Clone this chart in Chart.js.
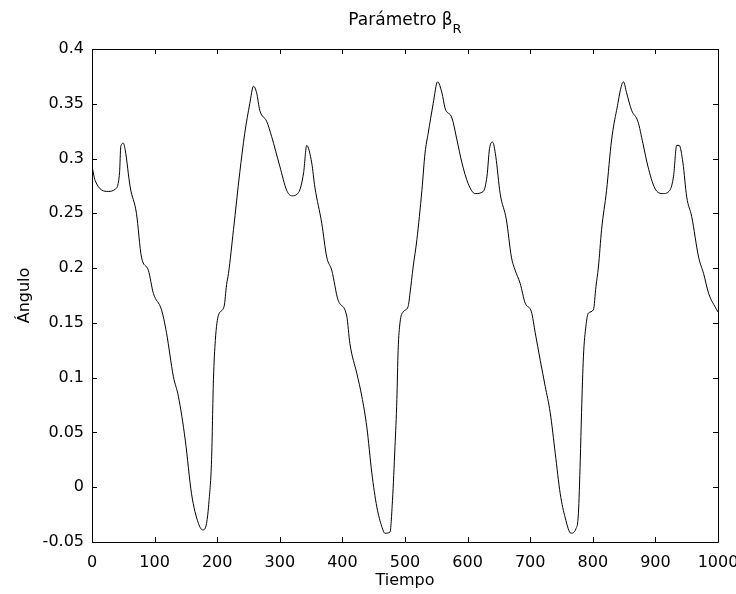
<!DOCTYPE html>
<html>
<head>
<meta charset="utf-8">
<script src="https://cdn.jsdelivr.net/npm/chart.js@4"></script>
<style>
  body { margin: 0; background: #fff; }
  canvas { display: block; }
</style>
</head>
<body>
<canvas id="beta_r" width="736" height="594"></canvas>
<script>
// valores
const tiempo = [
    0, 5, 26, 37, 44, 46, 50, 53, 61, 71, 79, 90, 98, 111, 119, 130, 138, 149, 159, 170,
    177, 183, 187, 191, 194, 197, 202, 211, 215, 218, 226, 236, 244, 252, 258, 263, 268, 279, 287, 300,
    311, 319, 330, 338, 343, 351, 356, 367, 375, 383, 393, 407, 412, 423, 431, 439, 447, 455, 463, 468,
    476, 480, 484, 487, 489, 492, 497, 505, 508, 513, 519, 527, 532, 537, 545, 552, 559, 564, 575, 583,
    591, 601, 612, 625, 631, 635, 640, 645, 652, 662, 670, 676, 684, 692, 702, 708, 716, 724, 732, 740,
    748, 756, 765, 773, 777, 780, 782, 785, 789, 793, 801, 805, 809, 814, 822, 830, 838, 849, 854, 862,
    872, 880, 888, 899, 912, 923, 929, 934, 938, 944, 950, 958, 969, 977, 985, 998, 1000
];
const angulo = [
    0.293, 0.280, 0.270, 0.272, 0.287, 0.311, 0.314, 0.308, 0.274, 0.250, 0.210, 0.198, 0.177, 0.162, 0.141, 0.101, 0.083, 0.043, -0.006, -0.033,
    -0.039, -0.033, -0.012, 0.025, 0.098, 0.134, 0.157, 0.165, 0.185, 0.195, 0.235, 0.287, 0.323, 0.350, 0.366, 0.360, 0.344, 0.334, 0.320, 0.293,
    0.271, 0.266, 0.269, 0.287, 0.312, 0.296, 0.274, 0.241, 0.210, 0.198, 0.171, 0.156, 0.131, 0.104, 0.083, 0.055, 0.013, -0.018, -0.036, -0.042,
    -0.041, -0.012, 0.037, 0.080, 0.125, 0.150, 0.160, 0.165, 0.177, 0.201, 0.226, 0.271, 0.305, 0.323, 0.350, 0.370, 0.360, 0.346, 0.337, 0.317,
    0.296, 0.277, 0.268, 0.270, 0.284, 0.309, 0.315, 0.302, 0.268, 0.244, 0.210, 0.198, 0.186, 0.168, 0.160, 0.141, 0.116, 0.092, 0.068, 0.031,
    -0.006, -0.028, -0.042, -0.038, -0.024, 0.025, 0.068, 0.119, 0.147, 0.159, 0.162, 0.183, 0.201, 0.235, 0.271, 0.317, 0.344, 0.370, 0.360, 0.344,
    0.334, 0.314, 0.293, 0.273, 0.268, 0.271, 0.284, 0.312, 0.312, 0.296, 0.265, 0.247, 0.210, 0.195, 0.177, 0.162, 0.160
];
const xTicks = [0, 100, 200, 300, 400, 500, 600, 700, 800, 900, 1000];
const yTicks = [-0.05, 0, 0.05, 0.1, 0.15, 0.2, 0.25, 0.3, 0.35, 0.4];

const fuente = "'DejaVu Sans', sans-serif";

// caja con marcas hacia dentro (estilo matlab)
const cajaPlugin = {
    id: 'caja',
    afterDraw(chart) {
        const {ctx, chartArea: a, scales} = chart;
        ctx.save();
        ctx.strokeStyle = '#000';
        ctx.lineWidth = 1;
        ctx.beginPath();
        ctx.rect(Math.round(a.left) + 0.5, Math.round(a.top) + 0.5, Math.round(a.right - a.left), Math.round(a.bottom - a.top));
        const L = 5;
        xTicks.forEach(v => {
            const x = Math.round(scales.x.getPixelForValue(v)) + 0.5;
            ctx.moveTo(x, a.bottom); ctx.lineTo(x, a.bottom - L);
            ctx.moveTo(x, a.top); ctx.lineTo(x, a.top + L);
        });
        yTicks.forEach(v => {
            const y = Math.round(scales.y.getPixelForValue(v)) + 0.5;
            ctx.moveTo(a.left, y); ctx.lineTo(a.left + L, y);
            ctx.moveTo(a.right, y); ctx.lineTo(a.right - L, y);
        });
        ctx.stroke();

        // titulo con subindice
        const cx = (a.left + a.right) / 2;
        ctx.fillStyle = '#000';
        ctx.textBaseline = 'alphabetic';
        ctx.textAlign = 'left';
        ctx.font = '17px ' + fuente;
        const t1 = 'Parámetro β';
        const w1 = ctx.measureText(t1).width;
        ctx.font = '13px ' + fuente;
        const w2 = ctx.measureText('R').width;
        const x0 = cx - (w1 + w2) / 2;
        ctx.font = '17px ' + fuente;
        ctx.fillText(t1, x0, 25);
        ctx.font = '13px ' + fuente;
        ctx.fillText('R', x0 + w1, 33);
        ctx.restore();
    }
};

const ctx = document.getElementById('beta_r').getContext('2d');

chart_beta = new Chart(ctx, {
    type: 'line',
    data: {
        datasets: [{
            label: 'Ángulo',
            data: tiempo.map((t, i) => ({x: t, y: angulo[i]})),
            borderColor: '#000000',
            borderWidth: 1,
            pointRadius: 0,
            cubicInterpolationMode: 'monotone',
            fill: false
        }]
    },
    options: {
        responsive: false,
        animation: false,
        layout: {
            padding: {top: 49, right: 18, left: 0, bottom: 0}
        },
        plugins: {
            legend: { display: false },
            tooltip: { enabled: false },
            title: { display: false }
        },
        scales: {
            x: {
                type: 'linear',
                min: 0,
                max: 1000,
                afterFit: s => { s.height = 52; s.paddingLeft = 0; s.paddingRight = 0; },
                afterBuildTicks: s => { s.ticks = xTicks.map(v => ({value: v})); },
                grid: { display: false, drawTicks: false },
                border: { display: false },
                ticks: {
                    color: '#000',
                    padding: 11,
                    maxRotation: 0,
                    font: { family: fuente, size: 16 },
                    callback: v => String(v)
                },
                title: {
                    display: true,
                    text: 'Tiempo',
                    color: '#000',
                    padding: {top: 4, bottom: 4},
                    font: { family: fuente, size: 16 }
                }
            },
            y: {
                type: 'linear',
                min: -0.05,
                max: 0.4,
                afterFit: s => { s.width = 92; s.paddingTop = 0; s.paddingBottom = 0; },
                afterBuildTicks: s => { s.ticks = yTicks.map(v => ({value: v})); },
                grid: { display: false, drawTicks: false },
                border: { display: false },
                ticks: {
                    color: '#000',
                    padding: 8,
                    font: { family: fuente, size: 16 },
                    callback: v => String(+v.toFixed(2))
                },
                title: {
                    display: true,
                    text: 'Ángulo',
                    color: '#000',
                    padding: {top: 15, bottom: 0},
                    font: { family: fuente, size: 16 }
                }
            }
        }
    },
    plugins: [cajaPlugin]
});
</script>
</body>
</html>
